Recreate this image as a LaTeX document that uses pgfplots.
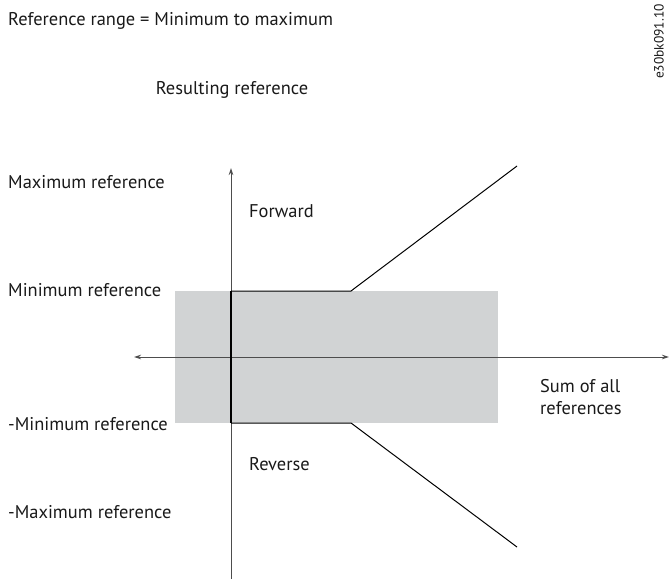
\documentclass[border=0pt]{standalone}
\usepackage{pgfplots}
\pgfplotsset{compat=1.18}
\usepackage{fontspec}
\setmainfont{PT Sans}
\usetikzlibrary{arrows.meta}
\definecolor{boxgray}{HTML}{D1D3D4}
\definecolor{axgray}{HTML}{4D4D4D}
\tikzset{lbl/.style={font=\fontsize{18.5}{21}\selectfont, text=black!90, inner sep=0pt}}
\begin{document}
\begin{tikzpicture}
\begin{axis}[
    scale only axis,
    width=672bp, height=579bp,
    xmin=0, xmax=672, ymin=0, ymax=579,
    y dir=reverse,
    hide axis,
    clip=false,
]
% band
\addplot[fill=boxgray, draw=none] coordinates {(175,291) (498,291) (498,423) (175,423)} -- cycle;
% axes
\addplot[axgray, line width=1bp, {Stealth[length=7bp,width=4.5bp]}-{Stealth[length=7bp,width=4.5bp]}] coordinates {(134,357) (669,357)};
\addplot[axgray, line width=1bp, -{Stealth[length=7bp,width=4.5bp]}] coordinates {(231,579) (231,168)};
% reference curves
\addplot[black, line width=1bp] coordinates {(231,291) (351,291) (517,166)};
\addplot[black, line width=1bp] coordinates {(231,423) (351,423) (517,547)};
\addplot[black, line width=1.5bp] coordinates {(231,291) (231,423)};
% labels
\node[lbl, anchor=base west] at (axis cs:8,26) {Reference range = Minimum to maximum};
\node[lbl, anchor=base] at (axis cs:232,94) {Resulting reference};
\node[lbl, anchor=base west] at (axis cs:8,188) {Maximum reference};
\node[lbl, anchor=base west] at (axis cs:249,217) {Forward};
\node[lbl, anchor=base west] at (axis cs:8,296) {Minimum reference};
\node[lbl, anchor=base west] at (axis cs:8,430) {-Minimum reference};
\node[lbl, anchor=base west] at (axis cs:249,470) {Reverse};
\node[lbl, anchor=base west] at (axis cs:8,518) {-Maximum reference};
\node[lbl, anchor=base west] at (axis cs:540,392) {Sum of all};
\node[lbl, anchor=base west] at (axis cs:540,414) {references};
\node[lbl, rotate=90, anchor=east, font=\fontsize{13.5}{16}\selectfont] at (axis cs:659,4) {e30bk091.10};
\end{axis}
\pgfresetboundingbox
\path (current axis.south west) rectangle (current axis.north east);
\end{tikzpicture}
\end{document}
